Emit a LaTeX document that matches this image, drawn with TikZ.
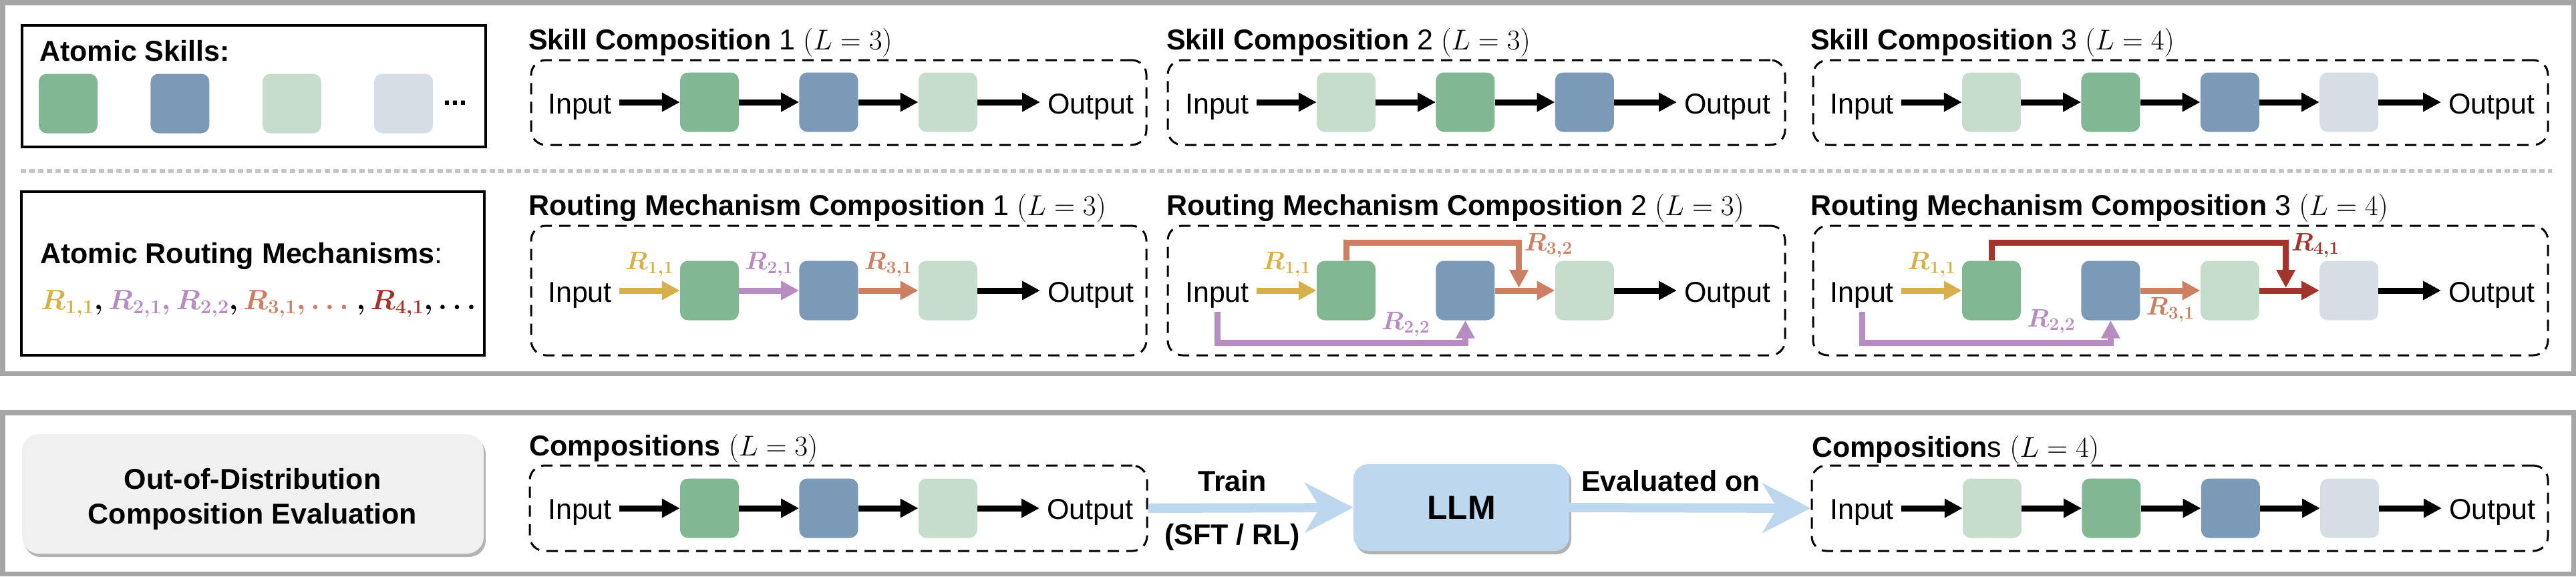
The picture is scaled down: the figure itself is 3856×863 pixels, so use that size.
\RequirePackage{fix-cm}
\documentclass[tikz,border=0pt]{standalone}
\usepackage{amsmath}
\usepackage[no-math]{fontspec}
\setmainfont{Liberation Sans}
\usepackage{xcolor}
\usetikzlibrary{positioning, fit, calc, arrows.meta, shadows}

\definecolor{skgreen}{HTML}{82B794}
\definecolor{skblue}{HTML}{7A9AB7}
\definecolor{sklight}{HTML}{C6DDCD}
\definecolor{skgray}{HTML}{D6DEE5}
\definecolor{rgold}{HTML}{D6B04C}
\definecolor{rpurple}{HTML}{B68CC2}
\definecolor{rorange}{HTML}{CC7F62}
\definecolor{rred}{HTML}{A2342C}
\definecolor{llmblue}{HTML}{BDD7EE}
\definecolor{oodgray}{HTML}{F0F0F0}
\definecolor{framegray}{HTML}{A6A6A6}
\definecolor{sepgray}{HTML}{C4C4C4}

\newcommand{\bodyfont}{\fontsize{43}{52}\selectfont}
\newcommand{\labfont}{\fontsize{38}{42}\selectfont}

\begin{document}
\begin{tikzpicture}[x=1pt, y=-1pt, every node/.style={font=\bodyfont}]
  \tikzset{
    panel/.style={draw=framegray, line width=7.5pt},
    atombox/.style={draw, line width=3.5pt, inner sep=0pt},
    skill/.style={rounded corners=12pt, minimum width=88pt, minimum height=89pt, inner sep=0pt},
    comp/.style={draw, line width=3pt, dash pattern=on 17pt off 11pt, rounded corners=22pt, inner sep=0pt},
    cmptitle/.style={anchor=base west, inner sep=0pt},
    io/.style={anchor=base west, inner xsep=11pt, inner ysep=6pt},
    flow/.style={line width=9pt, -{Triangle[length=27pt, width=27pt]}},
    rlab/.style={font=\labfont\boldmath, inner sep=2pt},
    bigarrow/.style={draw=llmblue, line width=14pt, -{Stealth[length=72pt, width=74pt, inset=22pt]}},
    sepline/.style={draw=sepgray, line width=6pt, dash pattern=on 8pt off 5pt},
    softshadow/.style={drop shadow={shadow xshift=3pt, shadow yshift=-5pt, fill=black, opacity=0.3}},
  }
  \useasboundingbox (0,0) rectangle (3856,863);

  % Panel frames and separator
  \draw[panel] (3.75,3.75) rectangle (3852.25,559.5);
  \draw[panel] (3.75,618) rectangle (3852.25,859.25);
  \draw[sepline] (31,256) -- (3820,256);

  % Atomic skills
  \node[atombox, fit={(33,38) (727,220)}] (askill) {};
  \node[cmptitle] (askilltitle) at (59,91) {\textbf{Atomic Skills:}};
  \node[skill, fill=skgreen] (s1) at (102,155) {};
  \node[skill, fill=skblue, right=79pt of s1] (s2) {};
  \node[skill, fill=sklight, right=79pt of s2] (s3) {};
  \node[skill, fill=skgray, right=79pt of s3] (s4) {};
  \node[cmptitle] (sdots) at (663,157) {\textbf{...}};

  % Skill composition 1
  \node[cmptitle] (sct1) at (791,74) {\textbf{Skill Composition} 1 $(L = 3)$};
  \node[comp, fit={(795,90) (1716,217)}] (sc1) {};
  \node[io] (in11) at (809,170) {Input};
  \node[skill, fill=skgreen] (g11) at (1062,153) {};
  \node[skill, fill=skblue, right=90pt of g11] (b11) {};
  \node[skill, fill=sklight, right=90pt of b11] (l11) {};
  \node[io] (out11) at (1557,170) {Output};
  \draw[flow] (in11.east |- g11) -- (g11);
  \draw[flow] (g11) -- (b11);
  \draw[flow] (b11) -- (l11);
  \draw[flow] (l11) -- (out11.west |- l11);

  % Skill composition 2
  \node[cmptitle] (sct2) at (1746,74) {\textbf{Skill Composition} 2 $(L = 3)$};
  \node[comp, fit={(1748,90) (2672,217)}] (sc2) {};
  \node[io] (in12) at (1763,170) {Input};
  \node[skill, fill=sklight] (l12) at (2015,153) {};
  \node[skill, fill=skgreen, right=90pt of l12] (g12) {};
  \node[skill, fill=skblue, right=90pt of g12] (b12) {};
  \node[io] (out12) at (2510,170) {Output};
  \draw[flow] (in12.east |- l12) -- (l12);
  \draw[flow] (l12) -- (g12);
  \draw[flow] (g12) -- (b12);
  \draw[flow] (b12) -- (out12.west |- b12);

  % Skill composition 3
  \node[cmptitle] (sct3) at (2710,74) {\textbf{Skill Composition} 3 $(L = 4)$};
  \node[comp, fit={(2714,90) (3814,217)}] (sc3) {};
  \node[io] (in13) at (2728,170) {Input};
  \node[skill, fill=sklight] (l13) at (2981,153) {};
  \node[skill, fill=skgreen, right=90pt of l13] (g13) {};
  \node[skill, fill=skblue, right=90pt of g13] (b13) {};
  \node[skill, fill=skgray, right=90pt of b13] (k13) {};
  \node[io] (out13) at (3654,170) {Output};
  \draw[flow] (in13.east |- l13) -- (l13);
  \draw[flow] (l13) -- (g13);
  \draw[flow] (g13) -- (b13);
  \draw[flow] (b13) -- (k13);
  \draw[flow] (k13) -- (out13.west |- k13);

  % Atomic routing mechanisms
  \node[atombox, fit={(32,287) (725,532)}] (aroute) {};
  \node[cmptitle] (aroutetitle) at (60,394) {\textbf{Atomic Routing Mechanisms}:};
  \node[cmptitle, font=\fontsize{42}{48}\selectfont\boldmath] (rlist) at (61,463)
    {$\textcolor{rgold}{R_{1,1}}, \textcolor{rpurple}{R_{2,1}, R_{2,2}}, \textcolor{rorange}{R_{3,1}, \dots}\ , \textcolor{rred}{R_{4,1}}, \dots$};

  % Routing composition 1
  \node[cmptitle] (rct1) at (791,322) {\textbf{Routing Mechanism Composition} 1 $(L = 3)$};
  \node[comp, fit={(795,338) (1716,532)}] (rc1) {};
  \node[io] (in21) at (809,452) {Input};
  \node[skill, fill=skgreen] (g21) at (1062,435) {};
  \node[skill, fill=skblue, right=90pt of g21] (b21) {};
  \node[skill, fill=sklight, right=90pt of b21] (l21) {};
  \node[io] (out21) at (1557,452) {Output};
  \draw[flow, rgold] (in21.east |- g21) -- (g21) node[midway, above=14pt, rlab] {$R_{1,1}$};
  \draw[flow, rpurple] (g21) -- (b21) node[midway, above=14pt, rlab] {$R_{2,1}$};
  \draw[flow, rorange] (b21) -- (l21) node[midway, above=14pt, rlab] {$R_{3,1}$};
  \draw[flow] (l21) -- (out21.west |- l21);

  % Routing composition 2
  \node[cmptitle] (rct2) at (1746,322) {\textbf{Routing Mechanism Composition} 2 $(L = 3)$};
  \node[comp, fit={(1748,338) (2672,532)}] (rc2) {};
  \node[io] (in22) at (1763,452) {Input};
  \node[skill, fill=skgreen] (g22) at (2015,435) {};
  \node[skill, fill=skblue, right=90pt of g22] (b22) {};
  \node[skill, fill=sklight, right=90pt of b22] (l22) {};
  \node[io] (out22) at (2510,452) {Output};
  \coordinate (j22) at ($(b22.east)!0.4!(l22.west)+(0,-4)$);
  \draw[flow, rgold] (in22.east |- g22) -- (g22) node[midway, above=14pt, rlab] {$R_{1,1}$};
  \draw[flow, rorange] (b22) -- (l22);
  \draw[flow] (l22) -- (out22.west |- l22);
  \draw[flow, rorange] (g22.north) -- ++(0,-27) -| (j22);
  \draw[flow, rpurple] (in22.south) -- ++(0,46) -| (b22.south);
  \node[rlab, rorange, anchor=north west] (lab32) at ($(j22)+(6,-84)$) {$R_{3,2}$};
  \node[rlab, rpurple, anchor=north] (lab22) at ($(g22.east)!0.5!(b22.west)+(0,30)$) {$R_{2,2}$};

  % Routing composition 3
  \node[cmptitle] (rct3) at (2710,322) {\textbf{Routing Mechanism Composition} 3 $(L = 4)$};
  \node[comp, fit={(2714,338) (3814,532)}] (rc3) {};
  \node[io] (in23) at (2728,452) {Input};
  \node[skill, fill=skgreen] (g23) at (2981,435) {};
  \node[skill, fill=skblue, right=90pt of g23] (b23) {};
  \node[skill, fill=sklight, right=90pt of b23] (l23) {};
  \node[skill, fill=skgray, right=90pt of l23] (k23) {};
  \node[io] (out23) at (3654,452) {Output};
  \coordinate (j23) at ($(l23.east)!0.44!(k23.west)+(0,-4)$);
  \draw[flow, rgold] (in23.east |- g23) -- (g23) node[midway, above=14pt, rlab] {$R_{1,1}$};
  \draw[flow, rorange] (b23) -- (l23) node[midway, below=4pt, rlab] {$R_{3,1}$};
  \draw[flow, rred] (l23) -- (k23);
  \draw[flow] (k23) -- (out23.west |- k23);
  \draw[flow, rred] (g23.north) -- ++(0,-27) -| (j23);
  \draw[flow, rpurple] (in23.south) -- ++(0,46) -| (b23.south);
  \node[rlab, rred, anchor=north west] (lab41) at ($(j23)+(6,-84)$) {$R_{4,1}$};
  \node[rlab, rpurple, anchor=north] (lab22b) at ($(g23.east)!0.5!(b23.west)+(0,26)$) {$R_{2,2}$};

  % Out-of-distribution evaluation
  \node[fill=oodgray, rounded corners=25pt, minimum width=691pt, minimum height=179pt, softshadow] (ood) at (378.5,739.5) {};
  \node[align=center, font=\bodyfont\bfseries] (oodtext) at (378,747) {Out-of-Distribution\\Composition Evaluation};

  % Training compositions (L = 3)
  \node[cmptitle] (tt1) at (792,682) {\textbf{Compositions} $(L = 3)$};
  \node[comp, fit={(793,697) (1717,825)}] (tc1) {};
  \node[io] (in31) at (809,777) {Input};
  \node[skill, fill=skgreen] (g31) at (1062,761) {};
  \node[skill, fill=skblue, right=90pt of g31] (b31) {};
  \node[skill, fill=sklight, right=90pt of b31] (l31) {};
  \node[io] (out31) at (1556,777) {Output};
  \draw[flow] (in31.east |- g31) -- (g31);
  \draw[flow] (g31) -- (b31);
  \draw[flow] (b31) -- (l31);
  \draw[flow] (l31) -- (out31.west |- l31);

  % LLM
  \node[fill=llmblue, rounded corners=22pt, minimum width=323pt, minimum height=130pt, softshadow,
        font=\fontsize{50}{60}\selectfont\bfseries] (llm) at (2187.5,760) {LLM};
  \draw[bigarrow] (tc1.east) -- (llm.west)
    node[pos=0.41, yshift=25pt, anchor=base, font=\bodyfont\bfseries] (train) {Train}
    node[pos=0.41, yshift=-55pt, anchor=base, font=\bodyfont\bfseries] (sftrl) {(SFT / RL)};

  % Evaluation compositions (L = 4)
  \node[cmptitle] (tt2) at (2712,684) {\textbf{Composition}s $(L = 4)$};
  \node[comp, fit={(2712,697) (3814,825)}] (tc2) {};
  \node[io] (in32) at (2728,777) {Input};
  \node[skill, fill=sklight] (l32) at (2982,761) {};
  \node[skill, fill=skgreen, right=90pt of l32] (g32) {};
  \node[skill, fill=skblue, right=90pt of g32] (b32) {};
  \node[skill, fill=skgray, right=90pt of b32] (k32) {};
  \node[io] (out32) at (3655,777) {Output};
  \draw[flow] (in32.east |- l32) -- (l32);
  \draw[flow] (l32) -- (g32);
  \draw[flow] (g32) -- (b32);
  \draw[flow] (b32) -- (k32);
  \draw[flow] (k32) -- (out32.west |- k32);
  \draw[bigarrow] (llm.east) -- (tc2.west)
    node[pos=0.42, yshift=25pt, anchor=base, font=\bodyfont\bfseries] (evalon) {Evaluated on};
\end{tikzpicture}
\end{document}
